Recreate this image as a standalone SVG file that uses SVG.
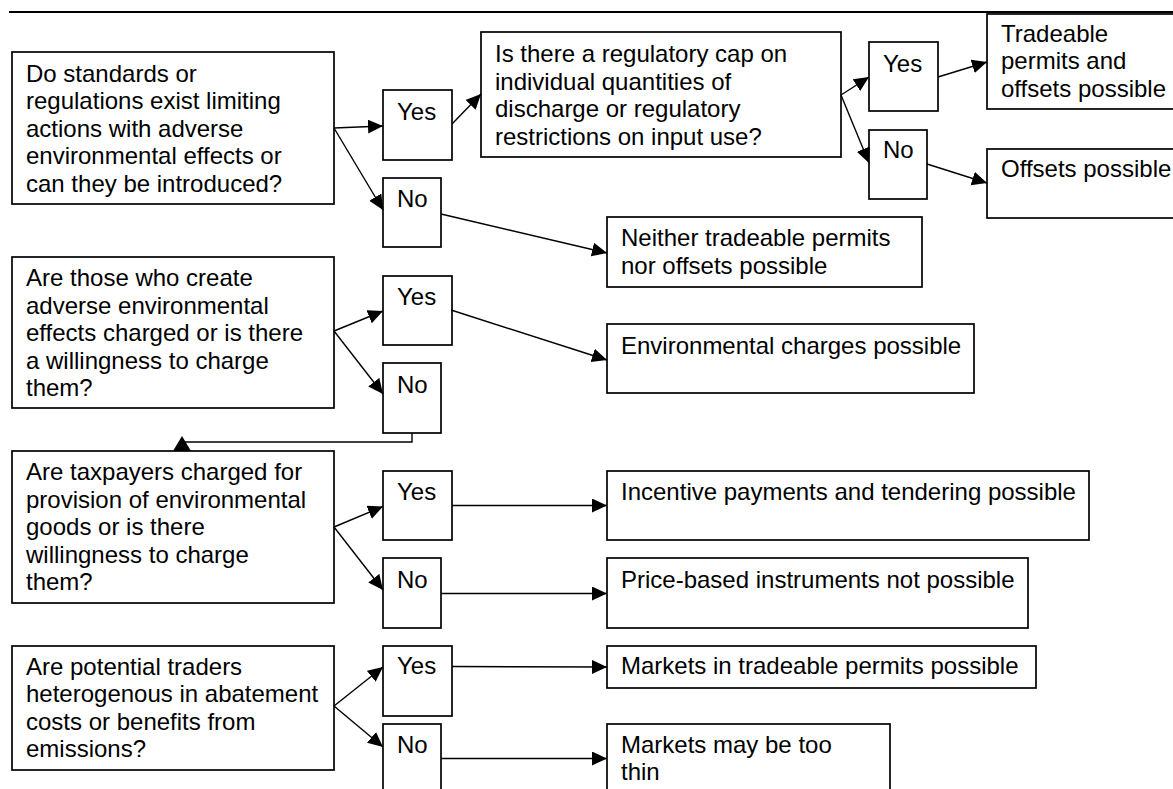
<svg xmlns="http://www.w3.org/2000/svg" width="1173" height="789" viewBox="0 0 1173 789">
<style>
.box{fill:#fff;stroke:#000;stroke-width:1.7}
.t{font-family:"Liberation Sans",Arial,sans-serif;font-size:24px;fill:#000}
.c{fill:none;stroke:#000;stroke-width:1.4}
.ca{fill:none;stroke:#000;stroke-width:1.4;marker-end:url(#ah)}
</style>
<defs>
<marker id="ah" markerUnits="userSpaceOnUse" markerWidth="16" markerHeight="15" refX="15" refY="7" orient="auto">
<path d="M0,0 L15,7 L0,14 z" fill="#000"/>
</marker>
</defs>
<rect x="0" y="0" width="1173" height="789" fill="#fff"/>
<line x1="9" y1="12" x2="1173" y2="12" stroke="#000" stroke-width="2"/>

<g id="q1"><rect class="box" x="12" y="52" width="322" height="152"/>
<text class="t" x="26" y="81.5"><tspan x="26">Do standards or</tspan><tspan x="26" dy="27.6">regulations exist limiting</tspan><tspan x="26" dy="27.6">actions with adverse</tspan><tspan x="26" dy="27.6">environmental effects or</tspan><tspan x="26" dy="27.6">can they be introduced?</tspan></text></g>
<g id="yes1"><rect class="box" x="383" y="90" width="69" height="70"/><text class="t" x="397" y="119.5">Yes</text></g>
<g id="no1"><rect class="box" x="383" y="178" width="58" height="69"/><text class="t" x="397" y="207">No</text></g>
<g id="q2"><rect class="box" x="481" y="32" width="360" height="125"/>
<text class="t" x="495" y="62"><tspan x="495">Is there a regulatory cap on</tspan><tspan x="495" dy="27.6">individual quantities of</tspan><tspan x="495" dy="27.6">discharge or regulatory</tspan><tspan x="495" dy="27.6">restrictions on input use?</tspan></text></g>
<g id="yes2"><rect class="box" x="869" y="42" width="69" height="69"/><text class="t" x="883" y="72">Yes</text></g>
<g id="no2"><rect class="box" x="869" y="130" width="58" height="69"/><text class="t" x="883" y="158">No</text></g>
<g id="tradeable"><rect class="box" x="987" y="14" width="192" height="95"/>
<text class="t" x="1001" y="41.5"><tspan x="1001">Tradeable</tspan><tspan x="1001" dy="27.6">permits and</tspan><tspan x="1001" dy="27.6">offsets possible</tspan></text></g>
<g id="offsets"><rect class="box" x="987" y="149" width="192" height="69"/><text class="t" x="1001" y="177">Offsets possible</text></g>
<g id="neither"><rect class="box" x="607" y="217" width="315" height="70"/>
<text class="t" x="621" y="246"><tspan x="621">Neither tradeable permits</tspan><tspan x="621" dy="27.6">nor offsets possible</tspan></text></g>

<g id="q3"><rect class="box" x="12" y="257" width="322" height="151"/>
<text class="t" x="26" y="286"><tspan x="26">Are those who create</tspan><tspan x="26" dy="27.6">adverse environmental</tspan><tspan x="26" dy="27.6">effects charged or is there</tspan><tspan x="26" dy="27.6">a willingness to charge</tspan><tspan x="26" dy="27.6">them?</tspan></text></g>
<g id="yes3"><rect class="box" x="383" y="276" width="69" height="69"/><text class="t" x="397" y="304.5">Yes</text></g>
<g id="no3"><rect class="box" x="383" y="363" width="58" height="70"/><text class="t" x="397" y="392.5">No</text></g>
<g id="envcharges"><rect class="box" x="607" y="324" width="367" height="69"/><text class="t" x="621" y="354">Environmental charges possible</text></g>

<g id="q4"><rect class="box" x="12" y="451" width="322" height="152"/>
<text class="t" x="26" y="480"><tspan x="26">Are taxpayers charged for</tspan><tspan x="26" dy="27.6">provision of environmental</tspan><tspan x="26" dy="27.6">goods or is there</tspan><tspan x="26" dy="27.6">willingness to charge</tspan><tspan x="26" dy="27.6">them?</tspan></text></g>
<g id="yes4"><rect class="box" x="383" y="471" width="69" height="69"/><text class="t" x="397" y="499.5">Yes</text></g>
<g id="no4"><rect class="box" x="383" y="558" width="58" height="70"/><text class="t" x="397" y="587.5">No</text></g>
<g id="incentive"><rect class="box" x="607" y="471" width="482" height="69"/><text class="t" x="621" y="500">Incentive payments and tendering possible</text></g>
<g id="price"><rect class="box" x="607" y="558" width="421" height="70"/><text class="t" x="621" y="587.5">Price-based instruments not possible</text></g>

<g id="q5"><rect class="box" x="12" y="646" width="322" height="124"/>
<text class="t" x="26" y="674.5"><tspan x="26">Are potential traders</tspan><tspan x="26" dy="27.6">heterogenous in abatement</tspan><tspan x="26" dy="27.6">costs or benefits from</tspan><tspan x="26" dy="27.6">emissions?</tspan></text></g>
<g id="yes5"><rect class="box" x="383" y="646" width="69" height="70"/><text class="t" x="397" y="674">Yes</text></g>
<g id="no5"><rect class="box" x="383" y="724" width="58" height="80"/><text class="t" x="397" y="752.5">No</text></g>
<g id="marketspermits"><rect class="box" x="607" y="646" width="429" height="42"/><text class="t" x="621" y="674">Markets in tradeable permits possible</text></g>
<g id="thin"><rect class="box" x="607" y="724" width="283" height="80"/>
<text class="t" x="621" y="752.5"><tspan x="621">Markets may be too</tspan><tspan x="621" dy="27.6">thin</tspan></text></g>

<g id="connectors">
<path class="ca" d="M334,128 L383,126"/>
<path class="ca" d="M334,128 L383,210"/>
<path class="ca" d="M452,124 L481,94"/>
<path class="ca" d="M441,214 L607,253"/>
<path class="ca" d="M841,95 L869,77"/>
<path class="ca" d="M841,95 L869,163"/>
<path class="ca" d="M938,77 L987,62"/>
<path class="ca" d="M927,164 L987,183"/>
<path class="ca" d="M334,331 L383,311"/>
<path class="ca" d="M334,331 L383,394"/>
<path class="ca" d="M451,310 L607,360"/>
<path class="c" d="M412,433 V442 H182"/>
<polygon points="182,436 173,451 191,451" fill="#000"/>
<path class="ca" d="M334,527 L383,506.5"/>
<path class="ca" d="M334,527 L383,590"/>
<path class="ca" d="M452,505.5 L607,505.5"/>
<path class="ca" d="M441,593.5 L607,593.5"/>
<path class="ca" d="M334,706 L383,667"/>
<path class="ca" d="M334,706 L383,747"/>
<path class="ca" d="M452,666.5 L607,667"/>
<path class="ca" d="M441,758.5 L607,758.5"/>
</g>
</svg>
